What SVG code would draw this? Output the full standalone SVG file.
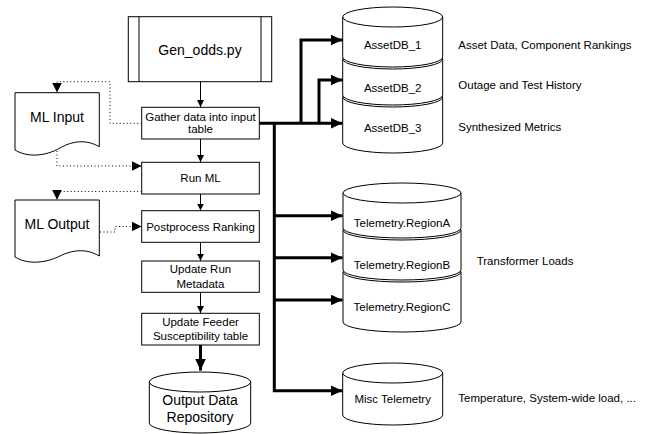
<svg xmlns="http://www.w3.org/2000/svg" width="650" height="434" viewBox="0 0 650 434">
<style>
text{font-family:"Liberation Sans",Arial,sans-serif;fill:#000}
.s{font-size:11.5px}
.m{font-size:14px}
.c{text-anchor:middle}
.box{fill:#fff;stroke:#000;stroke-width:1}
.cyl{fill:#fff;stroke:#000;stroke-width:1}
.thin{fill:none;stroke:#000;stroke-width:1}
.thick{fill:none;stroke:#000;stroke-width:3}
.dot{fill:none;stroke:#000;stroke-width:1;stroke-dasharray:1 2.5}
</style>
<defs>
<marker id="ah" markerWidth="7" markerHeight="7" refX="7" refY="3.5" orient="auto" markerUnits="userSpaceOnUse"><path d="M0,0 L7,3.5 L0,7 Z" fill="#000"/></marker>
<marker id="ahb" markerWidth="12" markerHeight="11" refX="12" refY="5.5" orient="auto" markerUnits="userSpaceOnUse"><path d="M0,0 L12,5.5 L0,11 Z" fill="#000"/></marker>
<marker id="ahd" markerWidth="10" markerHeight="10" refX="10" refY="5" orient="auto" markerUnits="userSpaceOnUse"><path d="M0,0 L10,5 L0,10 Z" fill="#000"/></marker>
</defs>

<g id="connectors">
<path class="thin" d="M200.5,81.7 V107" marker-end="url(#ah)"/>
<path class="thin" d="M200.5,139 V162" marker-end="url(#ah)"/>
<path class="thin" d="M200.5,194 V210.5" marker-end="url(#ah)"/>
<path class="thin" d="M200.5,242.3 V260.8" marker-end="url(#ah)"/>
<path class="thin" d="M200.5,292.3 V313" marker-end="url(#ah)"/>
<path class="thick" d="M200.5,345 V370.5" marker-end="url(#ahb)"/>
<path class="dot" d="M141.7,123.3 H110 V81.7 H57 V92.5" marker-end="url(#ahd)"/>
<path class="dot" d="M57,151 V166 H141.5" marker-end="url(#ahd)"/>
<path class="dot" d="M141.7,191.5 H57 V199.8" marker-end="url(#ahd)"/>
<path class="dot" d="M100,232 H115 V226.5 H141.5" marker-end="url(#ahd)"/>
<path class="thick" d="M259.3,123.3 H342.5" marker-end="url(#ahb)"/>
<path class="thick" d="M301,123.3 V40 H342.5" marker-end="url(#ahb)"/>
<path class="thick" d="M319,123.3 V80 H342.5" marker-end="url(#ahb)"/>
<path class="thick" d="M274.3,123.3 V390.7 H342.5" marker-end="url(#ahb)"/>
<path class="thick" d="M274.3,215.7 H342.5" marker-end="url(#ahb)"/>
<path class="thick" d="M274.3,257.7 H342.5" marker-end="url(#ahb)"/>
<path class="thick" d="M274.3,300 H342.5" marker-end="url(#ahb)"/>
</g>

<g id="gen_odds">
<rect class="box" x="128.3" y="16.7" width="143.4" height="65"/>
<line class="thin" x1="139" y1="16.7" x2="139" y2="81.7"/>
<line class="thin" x1="261" y1="16.7" x2="261" y2="81.7"/>
<text class="m c" x="200" y="55">Gen_odds.py</text>
</g>
<g id="gather">
<rect class="box" x="141.7" y="107.3" width="117.6" height="31.7"/>
<text class="s c" x="200.5" y="120.7">Gather data into input</text>
<text class="s c" x="200.5" y="133.4">table</text>
</g>
<g id="runml">
<rect class="box" x="141.7" y="162.3" width="117.6" height="31.7"/>
<text class="s c" x="200.5" y="182.3">Run ML</text>
</g>
<g id="postprocess">
<rect class="box" x="141.7" y="210.7" width="117.6" height="31.6"/>
<text class="s c" x="200.5" y="230.5">Postprocess Ranking</text>
</g>
<g id="updaterun">
<rect class="box" x="141.7" y="261" width="117.6" height="31.3"/>
<text class="s c" x="200.5" y="273.3">Update Run</text>
<text class="s c" x="200.5" y="287.8">Metadata</text>
</g>
<g id="updatefeeder">
<rect class="box" x="141.7" y="313.3" width="117.6" height="31.7"/>
<text class="s c" x="200.5" y="326.3">Update Feeder</text>
<text class="s c" x="200.5" y="340">Susceptibility table</text>
</g>
<g id="output">
<path class="cyl" d="M149.3,382 V423 A50.7,10 0 0 0 250.7,423 V382"/>
<ellipse class="cyl" cx="200" cy="382" rx="50.7" ry="10"/>
<text class="m c" x="200" y="405">Output Data</text>
<text class="m c" x="200" y="422">Repository</text>
</g>

<g id="mlinput">
<path class="box" d="M15,92.7 H99.3 V146.7 C86,139 72,141 60,148 C46,156 28,158 15,150 Z"/>
<text class="m c" x="57" y="122.3">ML Input</text>
</g>
<g id="mloutput">
<path class="box" d="M15,200 H99.3 V256 C86,248 72,250 60,256 C46,263 28,265 15,257 Z"/>
<text class="m c" x="57" y="229.3">ML Output</text>
</g>

<g id="assetdb_3">
<path class="cyl" d="M342.7,97 V143 A50,10 0 0 0 442.7,143 V97"/>
<ellipse class="cyl" cx="392.7" cy="97" rx="50" ry="10"/>
<text class="s c" x="392.7" y="132">AssetDB_3</text>
</g>
<g id="assetdb_2">
<path class="cyl" d="M342.7,59 V95 A50,10 0 0 0 442.7,95 V59"/>
<ellipse class="cyl" cx="392.7" cy="59" rx="50" ry="10"/>
<text class="s c" x="392.7" y="92.3">AssetDB_2</text>
</g>
<g id="assetdb_1">
<path class="cyl" d="M342.7,17 V57 A50,10 0 0 0 442.7,57 V17"/>
<ellipse class="cyl" cx="392.7" cy="17" rx="50" ry="10"/>
<text class="s c" x="392.7" y="49">AssetDB_1</text>
</g>

<g id="telemetry_c">
<path class="cyl" d="M343,272 V322 A59,10 0 0 0 461,322 V272"/>
<ellipse class="cyl" cx="402" cy="272" rx="59" ry="10"/>
<text class="s c" x="402" y="311">Telemetry.RegionC</text>
</g>
<g id="telemetry_b">
<path class="cyl" d="M343,230 V270 A59,10 0 0 0 461,270 V230"/>
<ellipse class="cyl" cx="402" cy="230" rx="59" ry="10"/>
<text class="s c" x="402" y="269.3">Telemetry.RegionB</text>
</g>
<g id="telemetry_a">
<path class="cyl" d="M343,193 V228 A59,10 0 0 0 461,228 V193"/>
<ellipse class="cyl" cx="402" cy="193" rx="59" ry="10"/>
<text class="s c" x="402" y="226.7">Telemetry.RegionA</text>
</g>

<g id="misc">
<path class="cyl" d="M342.7,373 V415 A50,10 0 0 0 442.7,415 V373"/>
<ellipse class="cyl" cx="392.7" cy="373" rx="50" ry="10"/>
<text class="s c" x="392.7" y="403">Misc Telemetry</text>
</g>

<g id="labels">
<text class="s" x="458.3" y="49">Asset Data, Component Rankings</text>
<text class="s" x="458.3" y="89">Outage and Test History</text>
<text class="s" x="458.3" y="130.7">Synthesized Metrics</text>
<text class="s" x="476.7" y="265">Transformer Loads</text>
<text class="s" x="458.3" y="402">Temperature, System-wide load, ...</text>
</g>
</svg>
